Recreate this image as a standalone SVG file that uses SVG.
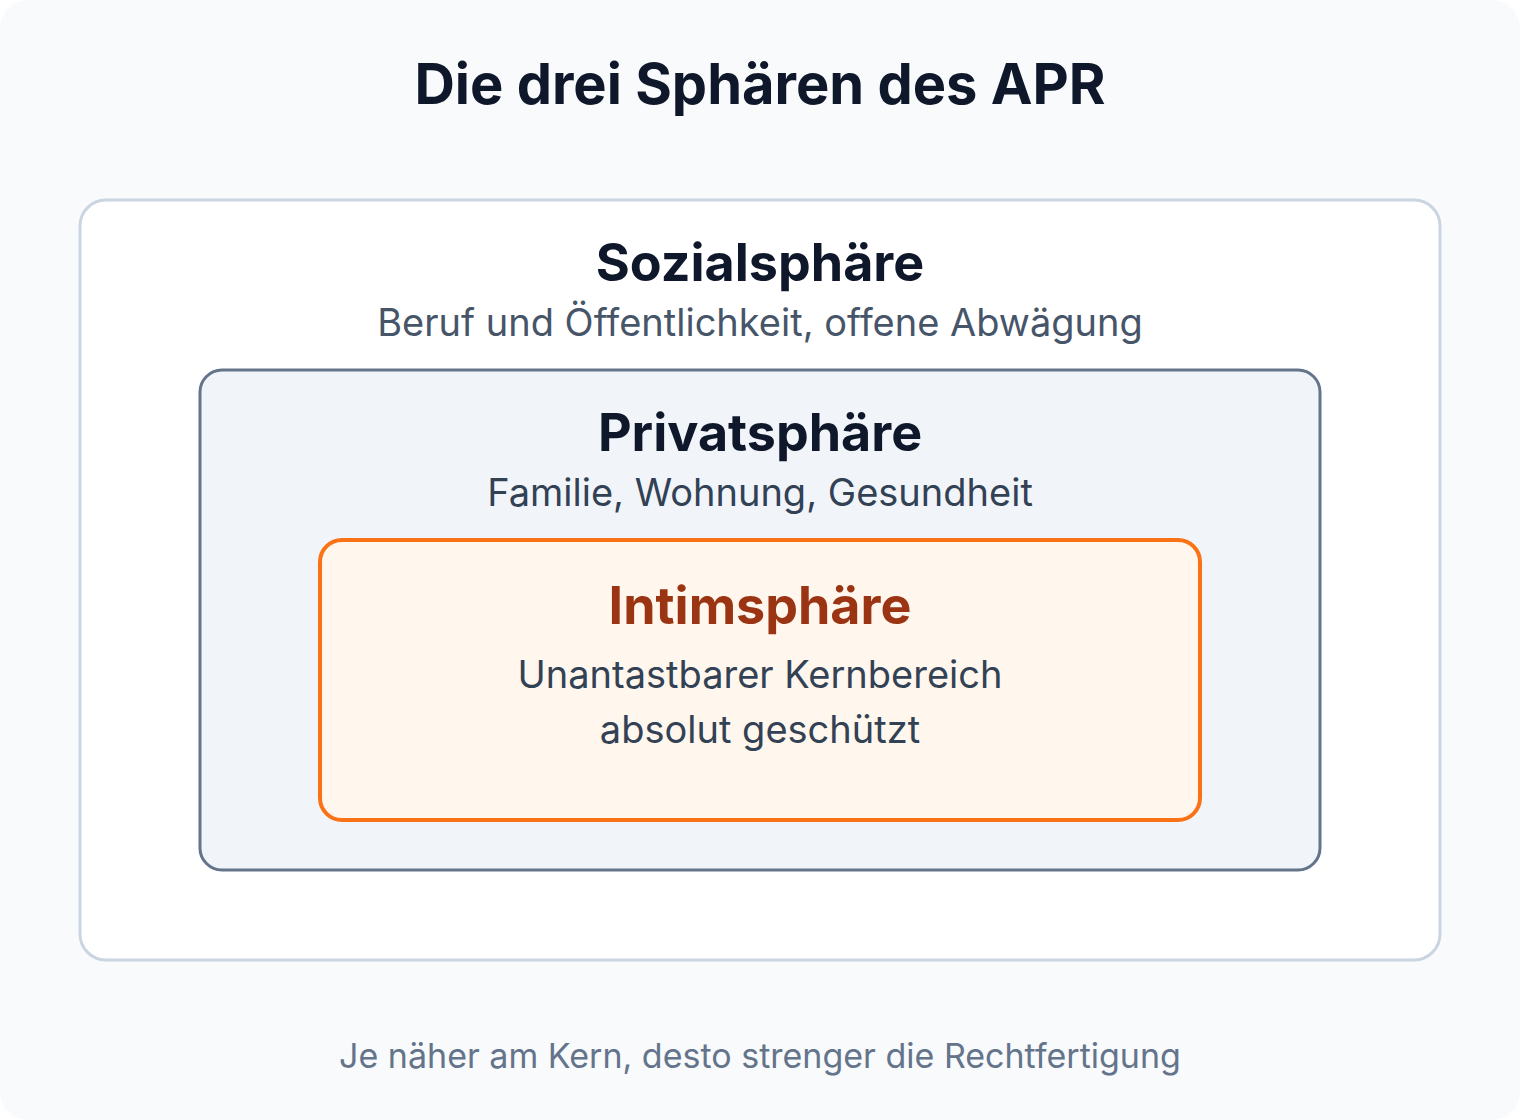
<svg xmlns="http://www.w3.org/2000/svg" width="1520" height="1120" viewBox="0 0 1520 1120">
<style>
text{font-family:Inter,"Noto Sans","Liberation Sans",sans-serif;text-anchor:middle}
.h{font-weight:700;fill:#0f172a}
.s{fill:#475569}
.b{fill:#334155}
</style>
<rect x="0" y="0" width="1520" height="1120" rx="28" fill="#f8fafc"/>
<text class="h" x="760" y="104" font-size="56">Die drei Sphären des APR</text>
<g id="sozial">
<rect x="80" y="200" width="1360" height="760" rx="26" fill="#ffffff" stroke="#cbd5e1" stroke-width="3"/>
<text class="h" x="760" y="281" font-size="52">Sozialsphäre</text>
<text class="s" x="760" y="336" font-size="38">Beruf und Öffentlichkeit, offene Abwägung</text>
</g>
<g id="privat">
<rect x="200" y="370" width="1120" height="500" rx="22" fill="#f1f5f9" stroke="#64748b" stroke-width="3"/>
<text class="h" x="760" y="451" font-size="52">Privatsphäre</text>
<text class="b" x="760" y="506" font-size="38">Familie, Wohnung, Gesundheit</text>
</g>
<g id="intim">
<rect x="320" y="540" width="880" height="280" rx="22" fill="#fff7ed" stroke="#f97316" stroke-width="4"/>
<text x="760" y="624" font-size="52" font-weight="700" fill="#9a3412">Intimsphäre</text>
<text class="b" x="760" y="688" font-size="38">Unantastbarer Kernbereich</text>
<text class="b" x="760" y="743" font-size="38">absolut geschützt</text>
</g>
<g id="connectors"/>
<text x="760" y="1068" font-size="34" fill="#64748b">Je näher am Kern, desto strenger die Rechtfertigung</text>
</svg>
